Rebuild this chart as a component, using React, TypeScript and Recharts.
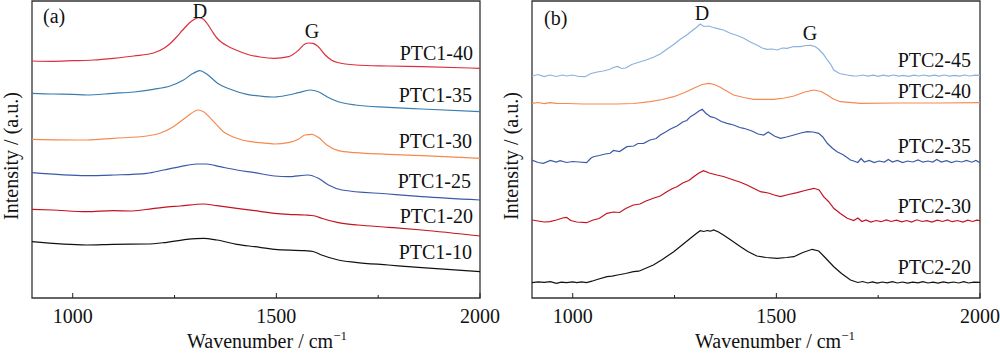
import React from "react";
import { LineChart, Line, XAxis, YAxis, ReferenceArea } from "recharts";

type Pt = [number, number];

const xTicks = [1000, 1250, 1500, 1750, 2000];
const xMajor = [1000, 1500, 2000];

// Panel (a) — PTC1 series: [wavenumber, intensity (a.u., offset)]
const PTC1_40: Pt[] = [[900,237],[950,236.7],[1000,237.3],[1050,238],[1100,239.7],[1150,242],[1200,245.3],[1225,250],[1240,254.7],[1255,261],[1270,268],[1285,274.5],[1296,278],[1308,280.3],[1320,279],[1330,274.5],[1342,267],[1354,260],[1366,255.5],[1380,252],[1395,249],[1410,246.5],[1430,243.5],[1460,241],[1495,239.7],[1530,241.3],[1555,248],[1570,254],[1580,255],[1590,254.7],[1603,251.3],[1620,243],[1635,238],[1650,235.5],[1695,233],[1775,232],[1857,231.3],[2000,229.7]];
const PTC1_35: Pt[] = [[900,204.7],[950,204],[1000,203.7],[1034,203],[1100,204.7],[1150,206],[1198,208.7],[1239,212],[1272,218],[1296,224.7],[1312,227.3],[1329,224],[1354,215.3],[1387,208.7],[1428,203.7],[1460,202],[1496,201],[1529,203],[1554,205.3],[1583,208],[1603,206.3],[1624,201.3],[1652,196.3],[1694,193],[1775,190.7],[1857,189],[2000,186.3]];
const PTC1_30: Pt[] = [[900,158.7],[1034,158],[1100,159.7],[1182,162],[1214,164.7],[1247,171.3],[1280,181.3],[1309,188],[1321,186.3],[1346,176.3],[1370,166.3],[1403,159.7],[1436,156.3],[1460,155.3],[1496,154],[1529,155.3],[1554,158.7],[1570,163],[1587,163.7],[1603,160.7],[1624,153],[1652,147.3],[1694,145.3],[1775,143.7],[1857,142.3],[2000,139.7]];
const PTC1_25: Pt[] = [[900,125.3],[1034,122.3],[1100,123],[1182,124.7],[1223,128],[1264,131.3],[1305,134],[1329,134],[1362,131.3],[1403,128],[1447,125.3],[1496,122],[1529,121.3],[1578,123],[1603,119.7],[1628,113],[1661,108],[1775,104],[1857,101.3],[2000,98]];
const PTC1_20: Pt[] = [[900,88.7],[950,88],[1034,86.3],[1100,87.3],[1141,87],[1180,88.5],[1223,90.7],[1264,92],[1321,94],[1354,92.3],[1403,89.7],[1447,87.3],[1496,84.7],[1529,83.7],[1570,83],[1595,82],[1611,79.7],[1652,75.3],[1700,73],[1775,70.7],[1857,68],[2000,62]];
const PTC1_10: Pt[] = [[900,56.3],[1034,53],[1100,53.7],[1182,54],[1223,55.3],[1280,58.7],[1321,59.7],[1354,58],[1403,53.7],[1447,51.3],[1496,48.7],[1570,47.3],[1590,46.5],[1611,43],[1652,38],[1694,35.7],[1775,33],[1857,30.3],[2000,26.3]];

// Panel (b) — PTC2 series
const PTC2_45: Pt[] = [[900,222],[915,223.5],[930,221.5],[944,223],[960,221.5],[975,223],[985,222],[1000,223],[1015,221.5],[1030,221.3],[1045,224.5],[1060,226],[1075,227],[1090,228.5],[1100,230.5],[1110,231.5],[1120,229.5],[1130,230],[1145,233.5],[1166,236.3],[1180,238],[1198,240.7],[1215,244],[1231,248.7],[1248,253.5],[1264,258.7],[1280,263],[1293,267.3],[1305,271],[1313,274],[1322,271.5],[1334,272],[1345,270.5],[1354,269.7],[1370,268],[1387,264.7],[1404,262.5],[1420,259.7],[1436,256],[1452,253],[1465,250],[1477,248.7],[1490,249],[1502,248],[1515,250],[1526,249.7],[1543,251.5],[1559,251.3],[1572,252.5],[1584,252.7],[1595,251.5],[1604,248.7],[1615,244],[1625,238],[1633,234],[1641,228],[1655,224.5],[1674,223],[1688,222.2],[1700,222],[1712,223],[1725,221.8],[1738,222.9],[1750,221.7],[1762,222.8],[1775,221.9],[1788,223],[1800,221.8],[1812,222.7],[1825,221.6],[1838,222.9],[1850,222],[1862,223],[1875,221.8],[1888,222.8],[1900,221.9],[1912,223],[1925,221.8],[1938,222.7],[1950,221.9],[1962,223],[1975,222],[1988,222.9],[2000,222.7]];
const PTC2_40: Pt[] = [[900,194.7],[915,195.5],[930,194.3],[944,195.3],[960,194.6],[985,194.5],[1026,194],[1108,194],[1150,194.5],[1190,196.3],[1220,198.5],[1248,201.3],[1275,205.5],[1297,209.7],[1318,213.5],[1334,214.7],[1348,213.5],[1362,210.7],[1380,206.5],[1395,203],[1420,200.5],[1444,198.7],[1493,198.7],[1520,200],[1543,202],[1570,206],[1592,208],[1610,206.5],[1625,203],[1640,199],[1657,196.3],[1707,194.7],[1800,195],[1900,195],[2000,195.3]];
const PTC2_35: Pt[] = [[900,138],[915,135.5],[928,134.7],[945,137.5],[960,136],[969,137.3],[985,135.5],[1000,136.5],[1015,136],[1034,135.3],[1045,140],[1051,141.3],[1065,142.5],[1080,144],[1092,144.7],[1100,147.5],[1115,146.5],[1133,151.3],[1150,152],[1160,154.5],[1174,154.7],[1190,158],[1205,159.5],[1215,163],[1230,166.5],[1240,169],[1256,172],[1270,176],[1280,177.5],[1289,181.3],[1300,184],[1310,187],[1318,188.7],[1326,185],[1338,181.3],[1350,180],[1365,176.5],[1379,174.7],[1395,173],[1410,170.5],[1420,169.7],[1440,167],[1455,164],[1469,163],[1480,166],[1495,162],[1510,159.7],[1525,161],[1543,163],[1560,165],[1576,166.3],[1590,166],[1604,164.7],[1614,161],[1625,154.7],[1637,150],[1649,146.3],[1665,143],[1682,138],[1690,137],[1700,135.5],[1708,139.5],[1716,136],[1728,137.5],[1740,135.5],[1752,137],[1765,136],[1775,138.5],[1785,136],[1797,137.5],[1810,135.5],[1822,137],[1835,136],[1848,138],[1860,135.8],[1872,137],[1884,136],[1894,138.5],[1905,136],[1918,137.3],[1930,135.5],[1942,137],[1955,136],[1967,137.5],[1980,135.8],[1990,137.5],[2000,135.3]];
const PTC2_30: Pt[] = [[900,78],[915,77],[930,76],[944,76.3],[960,78],[975,80],[985,80.7],[995,77.5],[1010,76],[1034,75.3],[1050,78],[1065,79.5],[1084,84.7],[1100,86],[1115,85.5],[1130,89.5],[1149,93],[1165,94],[1180,97],[1198,99.7],[1215,102],[1230,106],[1245,109.5],[1256,111.3],[1270,115],[1285,117.5],[1297,121.3],[1310,125],[1321,127.3],[1335,125],[1354,123],[1370,121.5],[1395,118],[1410,116],[1428,113],[1445,109.5],[1461,106.3],[1480,105],[1495,103],[1510,101.3],[1530,103.5],[1551,105.3],[1570,107.5],[1592,109.7],[1605,108],[1616,101.3],[1628,96.5],[1641,89.7],[1657,84.5],[1674,79.7],[1690,77.5],[1700,80],[1710,76.5],[1720,78],[1732,76],[1745,77.5],[1757,76.3],[1770,78],[1782,76.5],[1795,77.8],[1808,76.2],[1820,77.5],[1832,76],[1845,78.2],[1858,76.5],[1870,77.3],[1882,76],[1895,77.8],[1908,76.5],[1920,78],[1932,76.3],[1945,77.5],[1958,76],[1970,77.8],[1982,76.5],[1992,77.8],[2000,77.3]];
const PTC2_20: Pt[] = [[900,15.3],[915,16.2],[930,15.6],[945,16.4],[960,14.7],[972,15.8],[985,15.3],[1000,16.2],[1010,15.4],[1022,16.1],[1034,15.3],[1047,16.8],[1060,18.5],[1084,21.3],[1097,21.8],[1110,23],[1130,24.5],[1149,26.3],[1162,26.8],[1175,29],[1198,33],[1220,38.5],[1248,46.3],[1270,53.5],[1289,59.7],[1302,64],[1313,67.3],[1322,66.5],[1330,67.5],[1338,66.8],[1346,68],[1358,66],[1370,63],[1390,57.5],[1412,51.3],[1430,46.5],[1452,42],[1475,40.5],[1502,39.7],[1525,40.5],[1543,41.3],[1565,45.5],[1588,48.7],[1604,47],[1616,42],[1630,36],[1641,31.3],[1660,24.5],[1682,18],[1700,15.5],[1712,16.5],[1724,15],[1736,16.2],[1748,14.8],[1760,16],[1772,15.2],[1785,16.3],[1797,15],[1810,16],[1822,14.8],[1835,15.9],[1848,15.2],[1860,16.4],[1872,15],[1885,15.8],[1897,14.9],[1910,16.2],[1922,15.1],[1935,16],[1948,15],[1960,16.3],[1972,15],[1985,15.8],[2000,15.7]];

const FONT = "'Liberation Serif', 'Times New Roman', serif";

type Series = { name: string; data: Pt[]; color: string };

const panelA: Series[] = [
  { name: "PTC1-40", data: PTC1_40, color: "#dc2f3c" },
  { name: "PTC1-35", data: PTC1_35, color: "#3b7db0" },
  { name: "PTC1-30", data: PTC1_30, color: "#f5894f" },
  { name: "PTC1-25", data: PTC1_25, color: "#3b59a8" },
  { name: "PTC1-20", data: PTC1_20, color: "#c4121f" },
  { name: "PTC1-10", data: PTC1_10, color: "#111111" },
];
const panelB: Series[] = [
  { name: "PTC2-45", data: PTC2_45, color: "#8cb1de" },
  { name: "PTC2-40", data: PTC2_40, color: "#f5894f" },
  { name: "PTC2-35", data: PTC2_35, color: "#3b59a8" },
  { name: "PTC2-30", data: PTC2_30, color: "#c4121f" },
  { name: "PTC2-20", data: PTC2_20, color: "#111111" },
];

const Tick = (props: any) => {
  const { x, y, payload } = props;
  const major = xMajor.includes(payload.value);
  return (
    <g>
      <line x1={x} x2={x} y1={y} y2={y - (major ? 5 : 3)} stroke="#222" strokeWidth={1} />
      {major && (
        <text x={x} y={y + 25} textAnchor="middle" fontFamily={FONT} fontSize={20} fill="#111">
          {payload.value}
        </text>
      )}
    </g>
  );
};

const Panel = ({ series, smooth }: { series: Series[]; smooth: boolean }) => (
  <LineChart width={500} height={353} margin={{ top: 1, right: 20, bottom: 0, left: 32 }}>
    <XAxis
      type="number"
      dataKey="0"
      domain={[900, 2000]}
      ticks={xTicks}
      allowDataOverflow
      height={55}
      axisLine={false}
      tickLine={false}
      tickSize={0}
      tickMargin={0}
      tick={<Tick />}
    />
    <YAxis type="number" domain={[0, 297]} hide />
    {series.map((s) => (
      <Line
        key={s.name}
        data={s.data.map((p) => ({ 0: p[0], v: p[1] }))}
        dataKey="v"
        type={smooth ? "monotone" : "linear"}
        stroke={s.color}
        strokeWidth={1.2}
        dot={false}
        activeDot={false}
        isAnimationActive={false}
      />
    ))}
    <ReferenceArea x1={900} x2={2000} y1={0} y2={297} fill="none" stroke="#333" strokeWidth={1.3} ifOverflow="visible" />
  </LineChart>
);

const T = (p: any) => (
  <text fontFamily={FONT} fontSize={20} fill="#111" {...p} />
);

export default function App() {
  return (
    <div style={{ position: "absolute", left: 0, top: 0, width: 1000, height: 353, background: "#fff", overflow: "hidden" }}>
      <div style={{ position: "absolute", left: 0, top: 0 }}>
        <Panel series={panelA} smooth />
      </div>
      <div style={{ position: "absolute", left: 500, top: 0 }}>
        <Panel series={panelB} smooth={false} />
      </div>
      <svg width={1000} height={353} style={{ position: "absolute", left: 0, top: 0, pointerEvents: "none" }}>
        {/* panel a annotations */}
        <T x={43} y={23}>(a)</T>
        <T x={200} y={18} textAnchor="middle">D</T>
        <T x={312} y={38} textAnchor="middle">G</T>
        <T x={473} y={60} textAnchor="end">PTC1-40</T>
        <T x={472} y={101.5} textAnchor="end">PTC1-35</T>
        <T x={472} y={148} textAnchor="end">PTC1-30</T>
        <T x={471} y={188} textAnchor="end">PTC1-25</T>
        <T x={473} y={223} textAnchor="end">PTC1-20</T>
        <T x={472} y={259} textAnchor="end">PTC1-10</T>
        <T transform="translate(18,156) rotate(-90)" textAnchor="middle">Intensity / (a.u.)</T>
        <T x={267} y={348} textAnchor="middle">
          Wavenumber / cm<tspan dy={-8} fontSize={13}>−1</tspan>
        </T>
        {/* panel b annotations */}
        <T x={544} y={25}>(b)</T>
        <T x={702} y={20} textAnchor="middle">D</T>
        <T x={810} y={40} textAnchor="middle">G</T>
        <T x={971} y={66.5} textAnchor="end">PTC2-45</T>
        <T x={971} y={98} textAnchor="end">PTC2-40</T>
        <T x={971} y={153} textAnchor="end">PTC2-35</T>
        <T x={971} y={213} textAnchor="end">PTC2-30</T>
        <T x={971} y={274} textAnchor="end">PTC2-20</T>
        <T transform="translate(518,156) rotate(-90)" textAnchor="middle">Intensity / (a.u.)</T>
        <T x={775} y={348} textAnchor="middle">
          Wavenumber / cm<tspan dy={-8} fontSize={13}>−1</tspan>
        </T>
      </svg>
    </div>
  );
}
